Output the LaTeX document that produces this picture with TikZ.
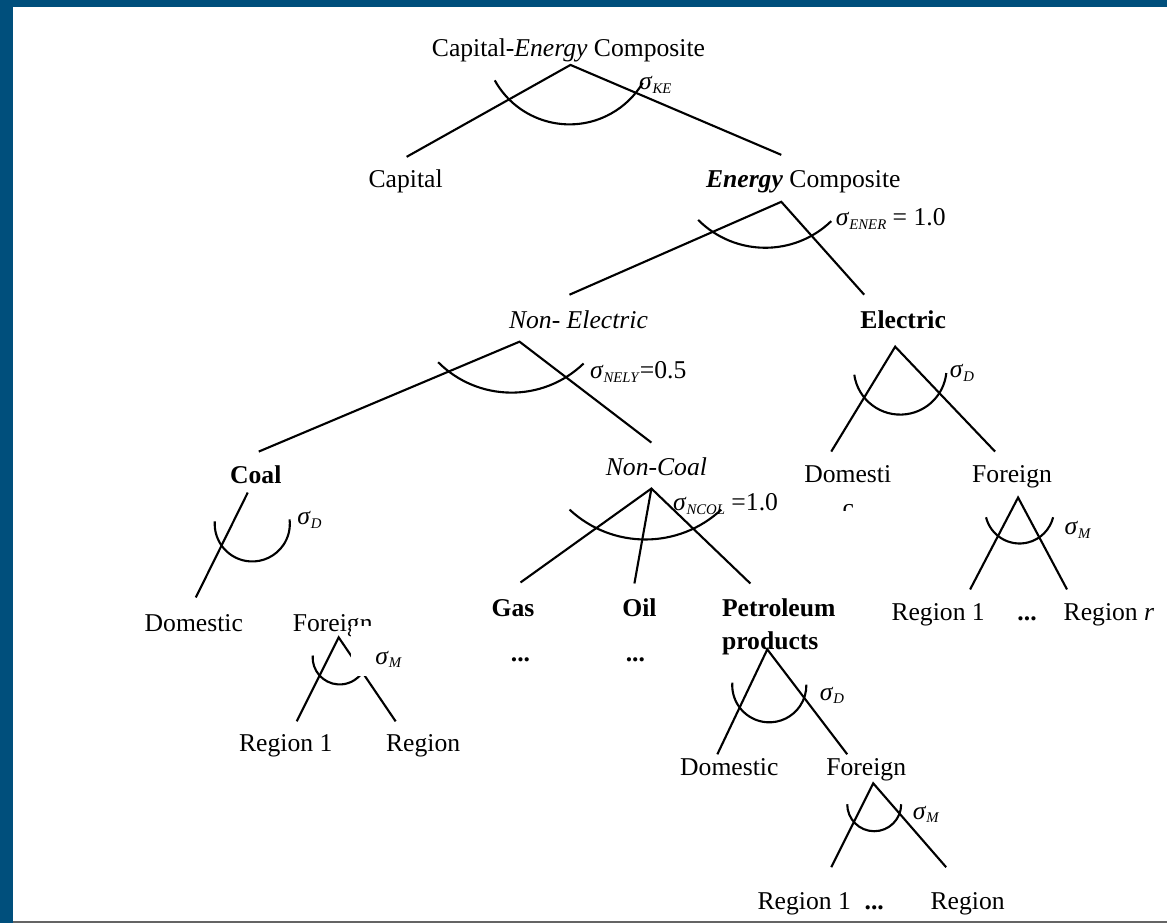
\documentclass[tikz,border=0pt]{standalone}
\usepackage{fontspec}
\setmainfont{Liberation Serif}
\definecolor{slideblue}{RGB}{0,79,124}
\definecolor{rulegray}{RGB}{100,100,100}
\newcommand{\elas}[1]{\textit{σ}\raisebox{-0.3ex}{\fontsize{4.2pt}{5pt}\selectfont\textit{#1}}}

\begin{document}
\begin{tikzpicture}[
  txt/.style={inner sep=0pt, anchor=base, font=\fontsize{7.3pt}{9.35pt}\selectfont},
  sig/.style={inner sep=0pt, anchor=base west, font=\fontsize{7.3pt}{9.35pt}\selectfont},
  branch/.style={line width=0.6pt},
  nest/.style={line width=0.6pt}
]
  % Slide frame
  \fill[slideblue] (0,0) rectangle (11.68,9.24);
  \fill[white] (0.13,0.02) rectangle (11.68,9.17);
  \draw[rulegray, line width=0.6pt] (0.13,0.015) -- (11.68,0.015);
  % Level 0: Capital-Energy
  \node[txt] (ke) at (5.69,8.67) {Capital-\textit{Energy} Composite};
  \node[sig] (sigKE) at (6.39,8.34) {\elas{KE}};
  % Level 1: Capital / Energy
  \node[txt] (cap) at (4.06,7.36) {Capital};
  \node[txt] (ener) at (8.04,7.36) {\textbf{\textit{Energy}} Composite};
  \node[sig] (sigENER) at (8.36,6.98) {\elas{ENER} = 1.0};
  % Level 2: Non-Electric / Electric
  \node[txt] (nonel) at (5.79,5.95) {\textit{Non- Electric}};
  \node[txt] (elec) at (9.04,5.95) {\textbf{Electric}};
  \node[sig] (sigNELY) at (5.90,5.45) {\elas{NELY}=0.5};
  \node[sig] (sigElec) at (9.50,5.46) {\elas{D}};
  % Level 3: Coal / Non-Coal / Domestic / Foreign
  \node[txt] (coal) at (2.56,4.40) {\textbf{Coal}};
  \node[txt] (noncoal) at (6.57,4.48) {\textit{Non-Coal}};
  \node[txt] (domE) at (8.485,4.41) {Domesti};
  \begin{scope}
    \clip (8.38,4.135) rectangle (8.62,4.24);
    \node[txt] (domEc) at (8.49,4.07) {c};
  \end{scope}
  \node[txt] (forE) at (10.13,4.41) {Foreign};
  \node[sig] (sigCoal) at (2.97,3.99) {\elas{D}};
  \node[sig] (sigNCOL) at (6.73,4.13) {\elas{NCOL} =1.0};
  \node[sig] (sigForE) at (10.65,3.89) {\elas{M}};
  % Level 4
  \node[txt] (domC) at (1.94,2.92) {Domestic};
  \node[txt] (forC) at (3.33,2.92) {Foreign};
  \node[txt] (gas) at (5.135,3.07) {\textbf{Gas}};
  \node[txt] (oil) at (6.40,3.07) {\textbf{Oil}};
  \node[txt, anchor=base west, align=left] (petro) at (7.22,2.74) {\textbf{Petroleum}\\\textbf{products}};
  \node[txt] (gasDots) at (5.21,2.62) {\textbf{...}};
  \node[txt] (oilDots) at (6.36,2.62) {\textbf{...}};
  \node[txt] (regE1) at (9.39,3.03) {Region 1};
  \node[txt] (regEdots) at (10.28,3.03) {\textbf{...}};
  \node[txt] (regEr) at (11.10,3.03) {Region \textit{r}};
  % Level 5
  \node[txt] (regC1) at (2.86,1.72) {Region 1};
  \node[txt] (regC) at (4.235,1.72) {Region};
  \node[txt] (domP) at (7.30,1.48) {Domestic};
  \node[txt] (forP) at (8.67,1.48) {Foreign};
  \node[sig] (sigPetro) at (8.20,2.23) {\elas{D}};
  \node[sig] (sigForP) at (9.13,1.04) {\elas{M}};
  % Level 6
  \node[txt] (regP1) at (8.05,0.14) {Region 1};
  \node[txt] (regPdots) at (8.75,0.14) {\textbf{...}};
  \node[txt] (regP) at (9.685,0.14) {Region};
  % Branch points
  \coordinate (keTop) at (5.71,8.59);   \coordinate (capEnd) at (4.07,7.67);   \coordinate (enerEnd) at (7.82,7.69);
  \coordinate (enerTop) at (7.82,7.22); \coordinate (nonelEnd) at (5.70,6.29); \coordinate (elecEnd) at (8.65,6.29);
  \coordinate (nonelTop) at (5.20,5.82); \coordinate (coalEnd) at (2.59,4.72); \coordinate (noncoalEnd) at (6.52,4.81);
  \coordinate (elecTop) at (8.96,5.77); \coordinate (domEEnd) at (8.32,4.72); \coordinate (forEEnd) at (9.96,4.72);
  \coordinate (forETop) at (10.19,4.26); \coordinate (regE1End) at (9.71,3.34); \coordinate (regErEnd) at (10.68,3.34);
  \coordinate (coalTop) at (2.48,4.31); \coordinate (domCEnd) at (1.96,3.26);
  \coordinate (forCTop) at (3.39,2.86); \coordinate (regC1End) at (2.97,2.02); \coordinate (regCEnd) at (3.96,2.02);
  \coordinate (noncoalTop) at (6.52,4.35); \coordinate (gasEnd) at (5.21,3.41);
  \coordinate (oilEnd) at (6.35,3.40); \coordinate (petroEnd) at (7.51,3.40);
  \coordinate (petroTop) at (7.68,2.74); \coordinate (domPEnd) at (7.18,1.69); \coordinate (forPEnd) at (8.48,1.69);
  \coordinate (forPTop) at (8.74,1.40); \coordinate (regP1End) at (8.32,0.56); \coordinate (regPEnd) at (9.47,0.56);
  % Branches
  \draw[branch] (capEnd) -- (keTop) -- (enerEnd);
  \draw[branch] (nonelEnd) -- (enerTop) -- (elecEnd);
  \draw[branch] (coalEnd) -- (nonelTop) -- (noncoalEnd);
  \draw[branch] (domEEnd) -- (elecTop) -- (forEEnd);
  \draw[branch] (regE1End) -- (forETop) -- (regErEnd);
  \draw[branch] (coalTop) -- (domCEnd);
  \draw[branch] (regC1End) -- (forCTop) -- (regCEnd);
  \draw[branch] (gasEnd) -- (noncoalTop) -- (petroEnd);
  \draw[branch] (noncoalTop) -- (oilEnd);
  \draw[branch] (domPEnd) -- (petroTop) -- (forPEnd);
  \draw[branch] (regP1End) -- (forPTop) -- (regPEnd);
  % Substitution arcs
  \foreach \cx/\cy/\a/\b/\r in {5.70/8.85/209/329/0.855, 7.66/7.71/225/314/0.95,
      5.12/6.348/225/314/1.038, 9.01/5.554/188/354/0.464, 10.205/4.146/194/346/0.346,
      2.525/3.996/176/367/0.376, 3.40/2.66/176/364/0.271, 6.46/4.953/227/313/1.113,
      7.70/2.381/176/361/0.371, 8.75/1.19/180/360/0.27}
    \draw[nest] (\cx,\cy) ++(\a:\r) arc[start angle=\a, end angle=\b, radius=\r];
  % Label box over the coal import nest
  \fill[white] (3.51,2.47) rectangle (4.10,2.97);
  \node[sig] (sigForC) at (3.75,2.59) {\elas{M}};
\end{tikzpicture}
\end{document}
